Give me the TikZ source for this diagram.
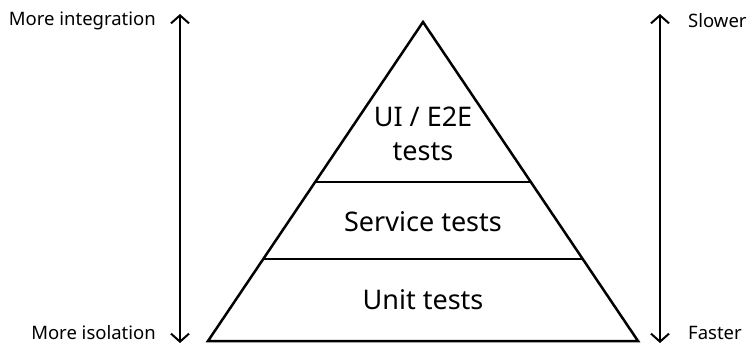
\documentclass[tikz,border=0pt]{standalone}
\usepackage{fontspec}
\setmainfont{Noto Sans}
\usetikzlibrary{arrows.meta,calc}
\begin{document}
\begin{tikzpicture}[x=1pt,y=-1pt,
  side/.style={font=\fontsize{18.5}{20}\selectfont, inner sep=0pt},
  layer/.style={font=\fontsize{27}{34}\selectfont, inner sep=0pt, align=center},
  axis/.style={line width=2pt, {Straight Barb[length=8pt,width=18pt,line width=2pt]}-{Straight Barb[length=8pt,width=18pt,line width=2pt]}},
  pyr/.style={line width=2.5pt, line join=miter}]
\useasboundingbox (0,0) rectangle (747,346);
% pyramid
\coordinate (apex) at (423,22);
\coordinate (bl) at (208,341);
\coordinate (br) at (638,341);
\draw[pyr] (apex) -- (br) -- (bl) -- cycle;
\draw[pyr] ($(apex)!0.5016!(bl)$) coordinate (a1) -- ($(apex)!0.5016!(br)$) coordinate (b1);
\draw[pyr] ($(apex)!0.743!(bl)$) coordinate (a2) -- ($(apex)!0.743!(br)$) coordinate (b2);
\node[layer] (ui) at (423,134) {UI / E2E\\tests};
\node[layer] (svc) at (423,222) {Service tests};
\node[layer] (unit) at (423,300) {Unit tests};
% axes
\coordinate (lt) at (180,14);
\coordinate (lb) at (180,343);
\coordinate (rt) at (660,14);
\coordinate (rb) at (660,343);
\draw[axis] (lb) -- (lt);
\draw[axis] (rb) -- (rt);
\node[side, anchor=east] (mi) at (156,21) {More integration};
\node[side, anchor=east] (mis) at (156,333) {More isolation};
\node[side, anchor=west] (sl) at (688,21) {Slower};
\node[side, anchor=west] (fa) at (688,333) {Faster};
\end{tikzpicture}
\end{document}
